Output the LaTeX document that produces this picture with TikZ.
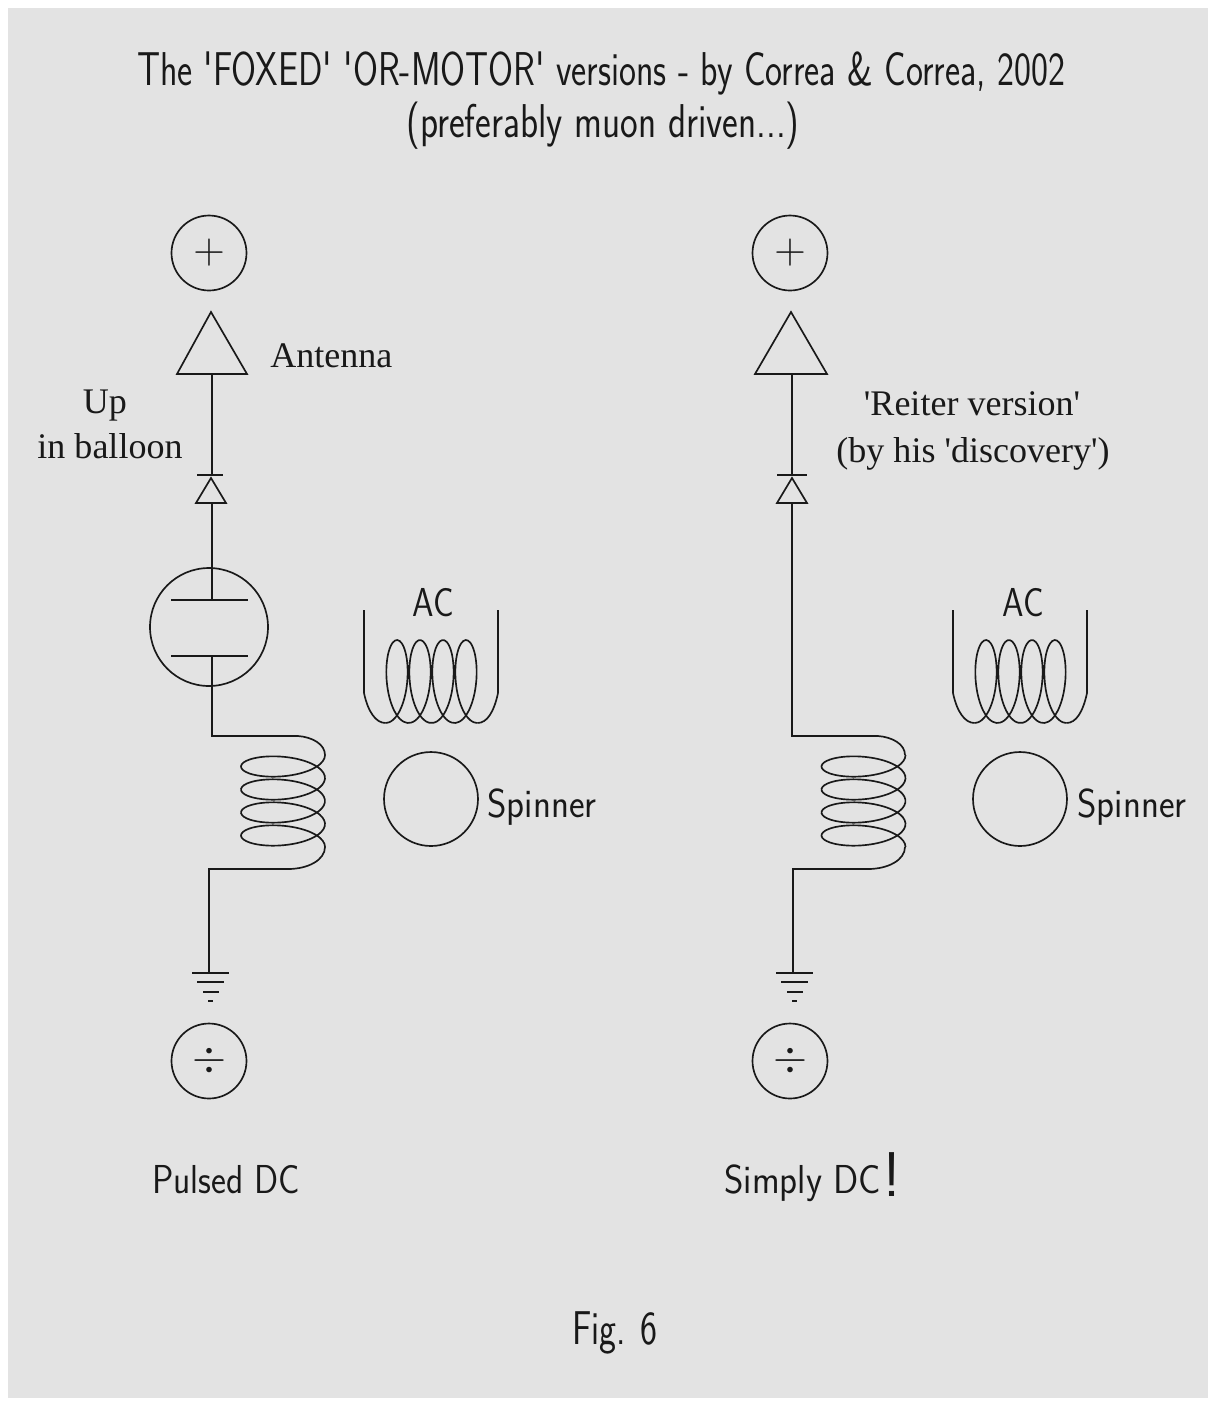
\documentclass[tikz,border=0pt]{standalone}
\usepackage{amssymb}
\usepackage{amsmath}
\usepackage{fontspec}
\newfontfamily\slabfont{Liberation Serif}
\newcommand{\sanstext}[1]{\scalebox{0.76}[1]{\sffamily #1}}
\newcommand{\widetext}[1]{\scalebox{0.92}[1]{\sffamily #1}}
\tikzset{
  wire/.style = {line width = 1.15pt, black!90},
  thin wire/.style = {line width = 0.95pt, black!90},
  ring/.style = {circle, draw, line width = 0.95pt, black!90, inner sep = 0pt},
  terminal/.style = {ring, minimum size = 1.5cm, font = \fontsize{30}{30}\selectfont},
  big label/.style = {font = \fontsize{27}{30}\selectfont, inner sep = 0pt, align = center, black!90},
  small label/.style = {font = \fontsize{23}{26}\selectfont, inner sep = 0pt, align = center, black!90},
  serif label/.style = {font = \fontsize{20.5}{25}\selectfont\slabfont, inner sep = 0pt, align = center, black!90},
}
\begin{document}
\begin{tikzpicture} [x = 0.02cm, y = -0.02cm]
\useasboundingbox (0, 0) rectangle (1210, 1401);
\fill[white] (0, 0) rectangle (1210, 1401);
\fill[black!11] (8, 8) rectangle (1208, 1398);
% titles
\node[big label] (title) at (601, 73){\sanstext{The \textquotesingle FOXED\textquotesingle{} \textquotesingle OR-MOTOR\textquotesingle{} versions - by Correa \& Correa, 2002}};
\node[big label] (subtitle) at (603, 126){\scalebox{0.79}[1]{\sffamily (preferably muon driven...)}};
\node[big label] (figlabel) at (615, 1333){\sanstext{Fig. 6}};
% left circuit
\node[terminal] (plusL) at (209, 253){$+$};
\node[terminal] (minusL) at (209, 1061){$\div$};
\node[ring, minimum size = 2.36cm] (tubeL) at (209, 627){};
\node[ring, minimum size = 1.88cm] (spinL) at (431, 799){};
\coordinate (antL) at (212, 374);
\coordinate (dioL) at (212, 475);
\coordinate (dibL) at (212, 503);
\coordinate (plateAL) at (212, 600);
\coordinate (plateBL) at (212, 656);
\coordinate (coilAL) at (212, 736);
\coordinate (coilBL) at (209, 869);
\coordinate (gndL) at (209, 973);
\draw[thin wire] (211, 312) -- (247, 374) -- (177, 374) -- cycle;
\draw[thin wire] (211, 478) -- (226, 503) -- (196, 503) -- cycle;
\draw[wire] (197, 475) -- (223, 475);
\draw[wire] (antL) -- (dioL);
\draw[wire] (dibL) -- (plateAL);
\draw[wire] (171, 600) -- (248, 600);
\draw[wire] (171, 656) -- (248, 656);
\draw[wire] (plateBL) -- (coilAL) -- (298, 736);
\draw[thin wire] (298, 736) .. controls (312, 737) and (325, 744) .. (325, 755);
\draw[thin wire, smooth, samples = 160, domain = 0:25.133, variable = \t] plot ({283 + 42*cos(\t r)}, {755 + 3.66*\t + 15.5*sin(\t r)});
\draw[thin wire] (325, 847) .. controls (325, 860) and (308, 869) .. (288, 869);
\draw[wire] (288, 869) -- (coilBL) -- (gndL);
\draw[wire] (192, 973) -- (229, 973);
\draw[wire] (197, 982) -- (224, 982);
\draw[wire] (203, 992) -- (219, 992);
\draw[wire] (208, 1001) -- (213, 1001);
\draw[thin wire] (364, 610) -- (364, 693) .. controls (368, 712) and (376, 723) .. (385.5, 723);
\draw[thin wire, smooth, samples = 130, domain = -3.1416:21.991, variable = \t] plot ({397 + 3.66*\t - 16*sin(\t r)}, {681.5 - 41.5*cos(\t r)});
\draw[thin wire] (477.5, 723) .. controls (487, 723) and (494, 712) .. (498, 693) -- (498, 610);
\node[small label] (acL) at (433, 603){\scalebox{0.85}[1]{\sffamily AC}};
\node[small label, anchor = west] (spinnerL) at (487, 807){\widetext{Spinner}};
\node[serif label, anchor = west] (antennaL) at (270, 356){Antenna};
\node[serif label] (balloonA) at (105, 406){Up};
\node[serif label] (balloonB) at (110, 446){in balloon};
\node[small label] (pulsed) at (226, 1180){\scalebox{0.88}[1]{\sffamily Pulsed DC}};
% right circuit
\node[terminal] (plusR) at (790, 253){$+$};
\node[terminal] (minusR) at (790, 1061){$\div$};
\node[ring, minimum size = 1.88cm] (spinR) at (1020, 799){};
\coordinate (antR) at (792, 374);
\coordinate (dioR) at (792, 475);
\coordinate (dibR) at (792, 503);
\coordinate (coilAR) at (792, 736);
\coordinate (coilBR) at (793, 869);
\coordinate (gndR) at (793, 973);
\draw[thin wire] (791, 312) -- (827, 374) -- (755, 374) -- cycle;
\draw[thin wire] (792, 478) -- (807, 503) -- (777, 503) -- cycle;
\draw[wire] (777, 475) -- (807, 475);
\draw[wire] (antR) -- (dioR);
\draw[wire] (dibR) -- (coilAR) -- (878, 736);
\draw[thin wire] (878, 736) .. controls (892, 737) and (905, 744) .. (905, 755);
\draw[thin wire, smooth, samples = 160, domain = 0:25.133, variable = \t] plot ({863.5 + 42*cos(\t r)}, {755 + 3.66*\t + 15.5*sin(\t r)});
\draw[thin wire] (905, 847) .. controls (905, 860) and (888, 869) .. (868, 869);
\draw[wire] (868, 869) -- (coilBR) -- (gndR);
\draw[wire] (776, 973) -- (813, 973);
\draw[wire] (781, 982) -- (808, 982);
\draw[wire] (787, 992) -- (803, 992);
\draw[wire] (792, 1001) -- (797, 1001);
\draw[thin wire] (953, 610) -- (953, 693) .. controls (957, 712) and (965, 723) .. (974.5, 723);
\draw[thin wire, smooth, samples = 130, domain = -3.1416:21.991, variable = \t] plot ({986 + 3.66*\t - 16*sin(\t r)}, {681.5 - 41.5*cos(\t r)});
\draw[thin wire] (1066.5, 723) .. controls (1076, 723) and (1083, 712) .. (1087, 693) -- (1087, 610);
\node[small label] (acR) at (1023, 603){\scalebox{0.85}[1]{\sffamily AC}};
\node[small label, anchor = west] (spinnerR) at (1077, 807){\widetext{Spinner}};
\node[serif label] (reiterA) at (972, 404){\textquotesingle Reiter version\textquotesingle};
\node[serif label] (reiterB) at (973, 454){(by his \textquotesingle discovery\textquotesingle)};
\node[small label, anchor = west] (simply) at (724, 1183){\widetext{Simply DC}};
\node[font = \fontsize{36}{36}\selectfont\sffamily, inner sep = 0pt, black!90] (bang) at (892, 1175){!};
\end{tikzpicture}
\end{document}
